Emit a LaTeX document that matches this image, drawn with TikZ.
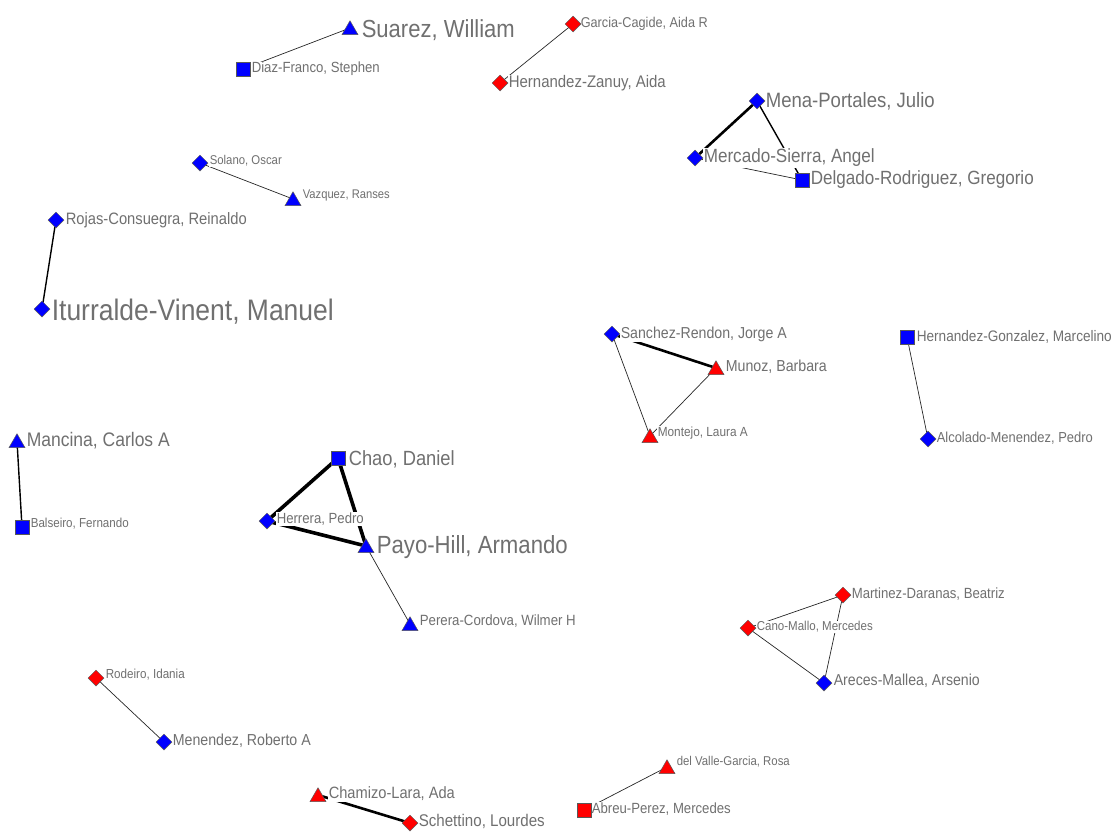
\documentclass[tikz,border=0pt]{standalone}
\usepackage{fontspec}
\setmainfont{Liberation Sans}
\usetikzlibrary{shapes.geometric}
\definecolor{nblue}{RGB}{0,0,255}
\definecolor{nred}{RGB}{255,0,0}
\definecolor{txt}{RGB}{112,112,112}
% label text set to a fixed width, slightly taller letter forms
\newcommand\fw[2]{\scalebox{1}[1.12]{\resizebox{#1pt}{!}{#2}}}
\begin{document}
\begin{tikzpicture}[x=1pt,y=-1pt,
  lbl/.style={anchor=west, fill=white, inner sep=0.6pt, text=txt},
  shp/.style={draw=black!65, line width=0.5pt, inner sep=0pt},
  dia/.style={shp, diamond, minimum width=16pt, minimum height=16pt},
  sq/.style={shp, rectangle, minimum size=14pt},
  tri/.style={shp, regular polygon, regular polygon sides=3, minimum size=18.5pt, yshift=-2pt},
  bn/.style={fill=nblue},
  rn/.style={fill=nred},
  e1/.style={draw=black!85, line width=0.7pt},
  e2/.style={draw=black, line width=1.4pt},
  e3/.style={draw=black, line width=2.6pt},
  e4/.style={draw=black, line width=3.6pt}]
\useasboundingbox (0,0) rectangle (1119,831);

% actor positions
\coordinate (suarez) at (350,28);
\coordinate (diaz) at (243,69);
\coordinate (garcia) at (573,24);
\coordinate (hzanuy) at (500,83);
\coordinate (mena) at (757,101);
\coordinate (mercado) at (695,158);
\coordinate (delgado) at (802,180);
\coordinate (solano) at (200,163);
\coordinate (vazquez) at (293,199);
\coordinate (rojas) at (56,220);
\coordinate (iturralde) at (42,309);
\coordinate (sanchez) at (612,334);
\coordinate (munoz) at (716,368);
\coordinate (montejo) at (650,436);
\coordinate (hgonzalez) at (907,337);
\coordinate (alcolado) at (928,439);
\coordinate (mancina) at (17,441);
\coordinate (balseiro) at (22,527);
\coordinate (chao) at (338,458);
\coordinate (herrera) at (267,521);
\coordinate (payo) at (366,546);
\coordinate (perera) at (410,624);
\coordinate (martinez) at (843,595);
\coordinate (cano) at (748,628);
\coordinate (areces) at (824,683);
\coordinate (rodeiro) at (96,678);
\coordinate (menendez) at (164,742);
\coordinate (delvalle) at (667,767);
\coordinate (abreu) at (584,810);
\coordinate (chamizo) at (318,795);
\coordinate (schettino) at (410,823);

% ties
\draw[e1] (suarez) -- (diaz);
\draw[e1] (garcia) -- (hzanuy);
\draw[e3] (mena) -- (mercado);
\draw[e2] (mena) -- (delgado);
\draw[e1] (mercado) -- (delgado);
\draw[e1] (solano) -- (vazquez);
\draw[e2] (rojas) -- (iturralde);
\draw[e3] (sanchez) -- (munoz);
\draw[e1] (sanchez) -- (montejo);
\draw[e1] (munoz) -- (montejo);
\draw[e1] (hgonzalez) -- (alcolado);
\draw[e2] (mancina) -- (balseiro);
\draw[e4] (chao) -- (herrera);
\draw[e4] (chao) -- (payo);
\draw[e4] (herrera) -- (payo);
\draw[e1] (payo) -- (perera);
\draw[e1] (martinez) -- (cano);
\draw[e1] (martinez) -- (areces);
\draw[e1] (cano) -- (areces);
\draw[e1] (rodeiro) -- (menendez);
\draw[e1] (delvalle) -- (abreu);
\draw[e3] (chamizo) -- (schettino);

% names
\node[lbl] (l-suarez) at ([xshift=11pt,yshift=-2pt]suarez) {\fw{153}{Suarez, William}};
\node[lbl] (l-diaz) at ([xshift=8pt]diaz) {\fw{128}{Diaz-Franco, Stephen}};
\node[lbl] (l-garcia) at ([xshift=7pt]garcia) {\fw{127}{Garcia-Cagide, Aida R}};
\node[lbl] (l-hzanuy) at ([xshift=8pt]hzanuy) {\fw{157}{Hernandez-Zanuy, Aida}};
\node[lbl] (l-mena) at ([xshift=8pt]mena) {\fw{169}{Mena-Portales, Julio}};
\node[lbl] (l-mercado) at ([xshift=8pt]mercado) {\fw{171}{Mercado-Sierra, Angel}};
\node[lbl] (l-delgado) at ([xshift=8pt]delgado) {\fw{223}{Delgado-Rodriguez, Gregorio}};
\node[lbl] (l-solano) at ([xshift=9pt,yshift=2pt]solano) {\fw{72}{Solano, Oscar}};
\node[lbl] (l-vazquez) at ([xshift=9pt,yshift=4pt]vazquez) {\fw{87}{Vazquez, Ranses}};
\node[lbl] (l-rojas) at ([xshift=9pt]rojas) {\fw{181}{Rojas-Consuegra, Reinaldo}};
\node[lbl] (l-iturralde) at ([xshift=9pt,yshift=-3pt]iturralde) {\fw{282}{Iturralde-Vinent, Manuel}};
\node[lbl] (l-sanchez) at ([xshift=8pt]sanchez) {\fw{166}{Sanchez-Rendon, Jorge A}};
\node[lbl] (l-munoz) at ([xshift=9pt,yshift=1pt]munoz) {\fw{101}{Munoz, Barbara}};
\node[lbl] (l-montejo) at ([xshift=7pt,yshift=3pt]montejo) {\fw{90}{Montejo, Laura A}};
\node[lbl] (l-hgonzalez) at ([xshift=9pt]hgonzalez) {\fw{195}{Hernandez-Gonzalez, Marcelino}};
\node[lbl] (l-alcolado) at ([xshift=8pt,yshift=1pt]alcolado) {\fw{156}{Alcolado-Menendez, Pedro}};
\node[lbl] (l-mancina) at ([xshift=9pt]mancina) {\fw{143}{Mancina, Carlos A}};
\node[lbl] (l-balseiro) at ([xshift=8pt,yshift=3pt]balseiro) {\fw{98}{Balseiro, Fernando}};
\node[lbl] (l-chao) at ([xshift=10pt,yshift=-1pt]chao) {\fw{106}{Chao, Daniel}};
\node[lbl] (l-herrera) at ([xshift=9pt,yshift=2pt]herrera) {\fw{87}{Herrera, Pedro}};
\node[lbl] (l-payo) at ([xshift=10pt,yshift=-1pt]payo) {\fw{191}{Payo-Hill, Armando}};
\node[lbl] (l-perera) at ([xshift=9pt,yshift=3pt]perera) {\fw{156}{Perera-Cordova, Wilmer H}};
\node[lbl] (l-martinez) at ([xshift=8pt,yshift=1pt]martinez) {\fw{153}{Martinez-Daranas, Beatriz}};
\node[lbl] (l-cano) at ([xshift=8pt,yshift=1pt]cano) {\fw{116}{Cano-Mallo, Mercedes}};
\node[lbl] (l-areces) at ([xshift=9pt,yshift=2pt]areces) {\fw{146}{Areces-Mallea, Arsenio}};
\node[lbl] (l-rodeiro) at ([xshift=9pt,yshift=3pt]rodeiro) {\fw{79}{Rodeiro, Idania}};
\node[lbl] (l-menendez) at ([xshift=8pt,yshift=1pt]menendez) {\fw{138}{Menendez, Roberto A}};
\node[lbl] (l-delvalle) at ([xshift=9pt,yshift=5pt]delvalle) {\fw{113}{del Valle-Garcia, Rosa}};
\node[lbl] (l-abreu) at ([xshift=7pt,yshift=1pt]abreu) {\fw{139}{Abreu-Perez, Mercedes}};
\node[lbl] (l-chamizo) at ([xshift=10pt,yshift=1pt]chamizo) {\fw{126}{Chamizo-Lara, Ada}};
\node[lbl] (l-schettino) at ([xshift=8pt,yshift=2pt]schettino) {\fw{126}{Schettino, Lourdes}};

% actor symbols
\node[tri,bn] (s-suarez) at (suarez) {};
\node[sq,bn] (s-diaz) at (diaz) {};
\node[dia,rn] (s-garcia) at (garcia) {};
\node[dia,rn] (s-hzanuy) at (hzanuy) {};
\node[dia,bn] (s-mena) at (mena) {};
\node[dia,bn] (s-mercado) at (mercado) {};
\node[sq,bn] (s-delgado) at (delgado) {};
\node[dia,bn] (s-solano) at (solano) {};
\node[tri,bn] (s-vazquez) at (vazquez) {};
\node[dia,bn] (s-rojas) at (rojas) {};
\node[dia,bn] (s-iturralde) at (iturralde) {};
\node[dia,bn] (s-sanchez) at (sanchez) {};
\node[tri,rn] (s-munoz) at (munoz) {};
\node[tri,rn] (s-montejo) at (montejo) {};
\node[sq,bn] (s-hgonzalez) at (hgonzalez) {};
\node[dia,bn] (s-alcolado) at (alcolado) {};
\node[tri,bn] (s-mancina) at (mancina) {};
\node[sq,bn] (s-balseiro) at (balseiro) {};
\node[sq,bn] (s-chao) at (chao) {};
\node[dia,bn] (s-herrera) at (herrera) {};
\node[tri,bn] (s-payo) at (payo) {};
\node[tri,bn] (s-perera) at (perera) {};
\node[dia,rn] (s-martinez) at (martinez) {};
\node[dia,rn] (s-cano) at (cano) {};
\node[dia,bn] (s-areces) at (areces) {};
\node[dia,rn] (s-rodeiro) at (rodeiro) {};
\node[dia,bn] (s-menendez) at (menendez) {};
\node[tri,rn] (s-delvalle) at (delvalle) {};
\node[sq,rn] (s-abreu) at (abreu) {};
\node[tri,rn] (s-chamizo) at (chamizo) {};
\node[dia,rn] (s-schettino) at (schettino) {};
\end{tikzpicture}
\end{document}
